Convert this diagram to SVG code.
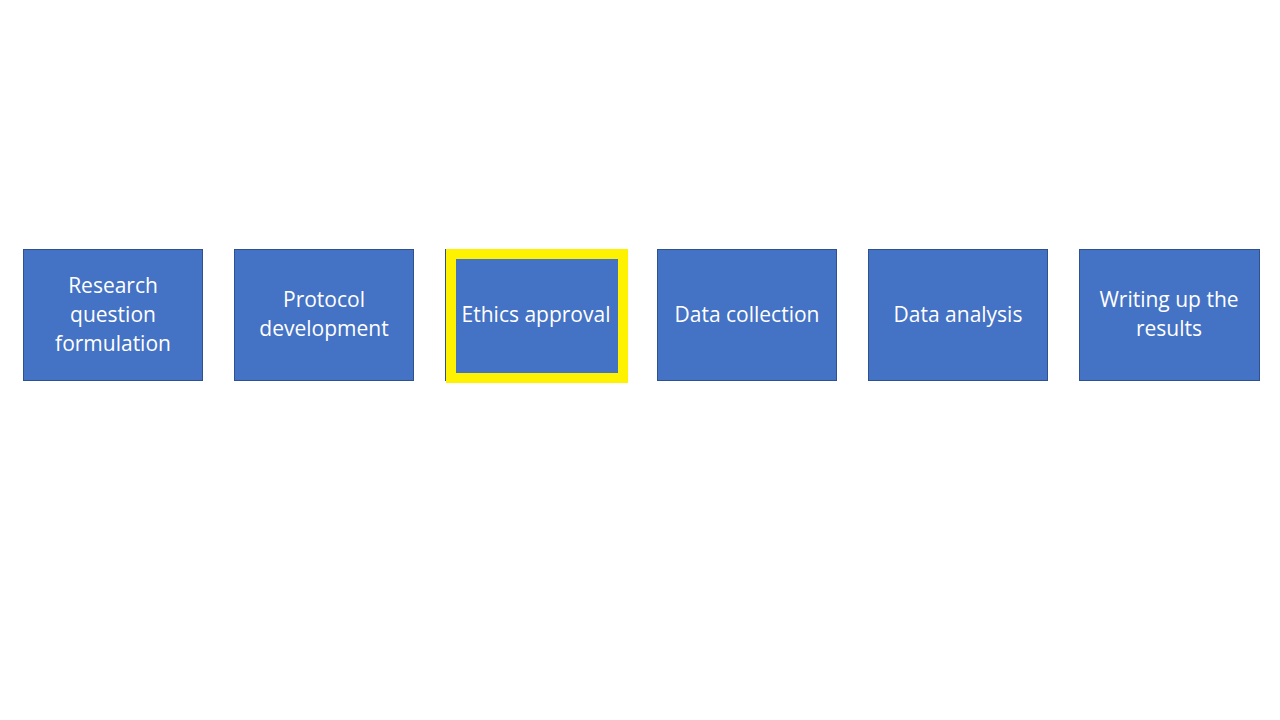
<svg xmlns="http://www.w3.org/2000/svg" width="1280" height="720" viewBox="0 0 1280 720">
<style>
.box{fill:#4472C4;stroke:#2F528F;stroke-width:1}
.t{font-family:"Open Sans","Liberation Sans",sans-serif;font-size:21px;fill:#FFFFFF;text-anchor:middle}
</style>
<rect width="1280" height="720" fill="#FFFFFF"/>
<g id="connectors"></g>
<g id="n1">
<rect class="box" x="23.5" y="249.5" width="179" height="131"/>
<text class="t" x="113" y="293">Research</text>
<text class="t" x="113" y="322">question</text>
<text class="t" x="113" y="351">formulation</text>
</g>
<g id="n2">
<rect class="box" x="234.5" y="249.5" width="179" height="131"/>
<text class="t" x="324" y="307">Protocol</text>
<text class="t" x="324" y="336">development</text>
</g>
<g id="n3">
<rect x="445" y="249" width="181" height="132" fill="#4472C4"/>
<line x1="445.5" y1="249" x2="445.5" y2="381" stroke="#2F528F" stroke-width="1"/>
<rect x="451" y="254" width="172" height="124" fill="none" stroke="#FFF200" stroke-width="10"/>
<text class="t" x="536" y="322">Ethics approval</text>
</g>
<g id="n4">
<rect class="box" x="657.5" y="249.5" width="179" height="131"/>
<text class="t" x="747" y="322">Data collection</text>
</g>
<g id="n5">
<rect class="box" x="868.5" y="249.5" width="179" height="131"/>
<text class="t" x="958" y="322">Data analysis</text>
</g>
<g id="n6">
<rect class="box" x="1079.5" y="249.5" width="180" height="131"/>
<text class="t" x="1169" y="307">Writing up the</text>
<text class="t" x="1169" y="336">results</text>
</g>
</svg>
